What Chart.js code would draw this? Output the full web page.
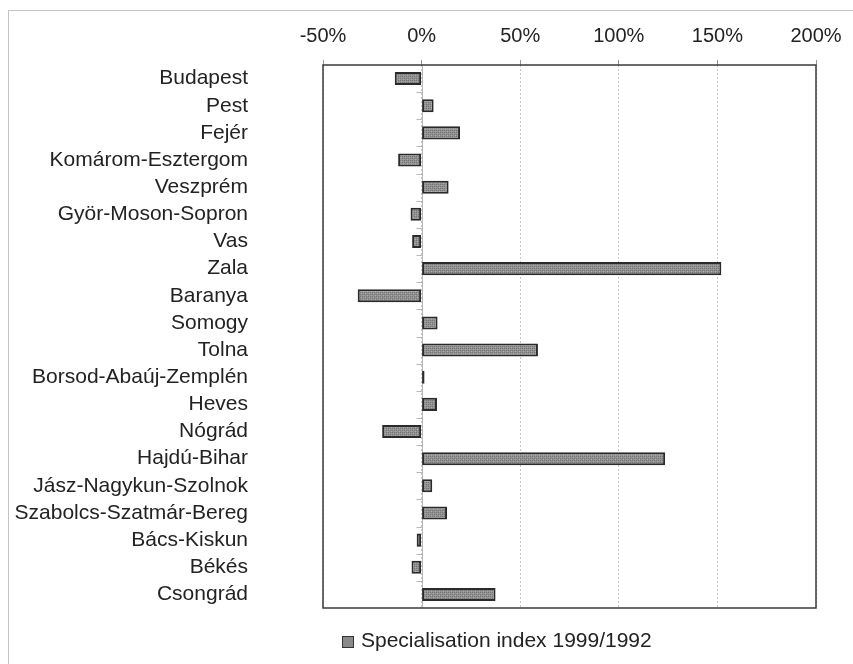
<!DOCTYPE html>
<html>
<head>
<meta charset="utf-8">
<script src="https://cdn.jsdelivr.net/npm/chart.js@4/dist/chart.umd.min.js"></script>
<style>
  body { margin: 0; background: #fff; overflow: hidden; }
  #wrap { position: relative; width: 853px; height: 664px; }
  #frame { position: absolute; left: 8px; top: 10px; width: 900px; height: 700px; border: 1px solid #c4c4c4; }
  #grafico { position: absolute; left: 0; top: 0; }
  #legenda { position: absolute; left: 342px; top: 628px; font: 21px "Liberation Sans", Arial, sans-serif; color: #222; white-space: nowrap; }
  #legenda span.cx { display: inline-block; width: 10px; height: 10px; background: #8a8a8a; border: 1px solid #333; margin-right: 7px; vertical-align: -1px; }
</style>
</head>
<body>
<div id="wrap">
  <div id="frame"></div>
  <canvas id="grafico" width="853" height="664"></canvas>
  <div id="legenda"><span class="cx"></span>Specialisation index 1999/1992</div>
</div>
<script>
const megyek = [
  "Budapest", "Pest", "Fejér", "Komárom-Esztergom", "Veszprém",
  "Györ-Moson-Sopron", "Vas", "Zala", "Baranya", "Somogy", "Tolna",
  "Borsod-Abaúj-Zemplén", "Heves", "Nógrád", "Hajdú-Bihar",
  "Jász-Nagykun-Szolnok", "Szabolcs-Szatmár-Bereg", "Bács-Kiskun",
  "Békés", "Csongrád"
];
// specialisation index change, percent
const indexValtozas = [
  -13.6, 6.1, 19.5, -11.9, 13.7,
  -5.6, -4.8, 152, -32.4, 8.1, 59,
  1.5, 7.8, -20, 123.5,
  5.4, 12.9, -2.5,
  -5.1, 37.5
];
const tengelyMin = -50;
const tengelyMax = 200;
const lepes = 50;

// stippled grey fill for the bars
function mintazat() {
  const c = document.createElement("canvas");
  c.width = 4; c.height = 4;
  const g = c.getContext("2d");
  g.fillStyle = "#939393";
  g.fillRect(0, 0, 4, 4);
  g.fillStyle = "#747474";
  g.fillRect(0, 0, 1, 1); g.fillRect(2, 2, 1, 1);
  g.fillRect(2, 0, 1, 1); g.fillRect(0, 2, 1, 1);
  g.fillStyle = "#a8a8a8";
  g.fillRect(1, 1, 1, 1); g.fillRect(3, 3, 1, 1);
  return g.createPattern(c, "repeat");
}

// zero axis with category tick marks, and the plot frame
const keret = {
  id: "keret",
  beforeDatasetsDraw(chart) {
    const { ctx, chartArea, scales } = chart;
    const x0 = Math.round(scales.x.getPixelForValue(0)) + 0.5;
    ctx.save();
    ctx.strokeStyle = "#b8b8b8";
    ctx.lineWidth = 1;
    ctx.beginPath();
    ctx.moveTo(x0, chartArea.top);
    ctx.lineTo(x0, chartArea.bottom);
    const n = megyek.length;
    for (let i = 1; i < n; i++) {
      const y = Math.round((scales.y.getPixelForValue(i - 1) + scales.y.getPixelForValue(i)) / 2) + 0.5;
      ctx.moveTo(x0 - 6, y);
      ctx.lineTo(x0, y);
    }
    ctx.stroke();
    ctx.restore();
  },
  afterDraw(chart) {
    const { ctx, chartArea } = chart;
    ctx.save();
    ctx.strokeStyle = "#3a3a3a";
    ctx.lineWidth = 1.5;
    ctx.strokeRect(chartArea.left, chartArea.top, chartArea.right - chartArea.left, chartArea.bottom - chartArea.top);
    ctx.restore();
  }
};

// fixed axis sizes, no extra room for overhanging labels
function nullPadding(scale) {
  scale.paddingTop = 0;
  scale.paddingBottom = 0;
  scale.paddingLeft = 0;
  scale.paddingRight = 0;
}

const ctx = document.getElementById("grafico");

new Chart(ctx, {
  type: "bar",
  data: {
    labels: megyek,
    datasets: [
      {
        label: "Specialisation index 1999/1992",
        data: indexValtozas,
        backgroundColor: mintazat(),
        borderColor: "#2a2a2a",
        borderWidth: 2,
        borderSkipped: false,
        categoryPercentage: 1,
        barPercentage: 0.48,
      },
    ],
  },
  plugins: [keret],
  options: {
    indexAxis: "y",
    responsive: false,
    animation: false,
    layout: { padding: { top: 0, left: 0, right: 37, bottom: 56 } },
    plugins: {
      legend: { display: false },
      tooltip: { enabled: false },
    },
    scales: {
      x: {
        position: "top",
        min: tengelyMin,
        max: tengelyMax,
        ticks: {
          stepSize: lepes,
          padding: 12,
          color: "#222",
          font: { family: "'Liberation Sans', Arial, sans-serif", size: 20 },
          callback: (v) => v + "%",
        },
        grid: {
          color: "#c4c4c4",
          tickColor: "#999",
          tickLength: 5,
        },
        border: { display: false, dash: [2, 2] },
        afterFit: (scale) => { scale.height = 65; nullPadding(scale); },
      },
      y: {
        ticks: {
          padding: 75,
          autoSkip: false,
          color: "#222",
          font: { family: "'Liberation Sans', Arial, sans-serif", size: 21 },
        },
        grid: { display: false, drawTicks: false },
        border: { display: false },
        afterFit: (scale) => { scale.width = 323; nullPadding(scale); },
      },
    },
  },
});
</script>
</body>
</html>
